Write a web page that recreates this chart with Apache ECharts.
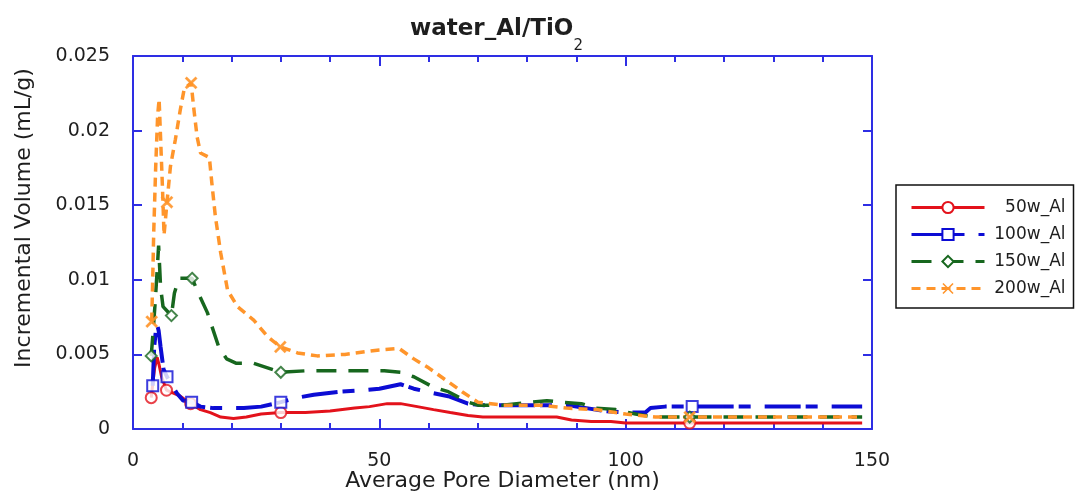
<!DOCTYPE html>
<html>
<head>
<meta charset="utf-8">
<script src="https://cdn.jsdelivr.net/npm/echarts@6/dist/echarts.min.js"></script>
<style>
  html, body { margin: 0; padding: 0; background: #fff; }
  #chart { width: 1075px; height: 493px; }
</style>
</head>
<body>
<div id="chart"></div>
<script>
// Sample names (legend order)
const seriesNames = ['50w_Al', '100w_Al', '150w_Al', '200w_Al'];

// Average pore diameter (nm) and incremental volume (mL/g) for each sample
const dia50 = [3.7, 4.0, 4.4, 4.9, 5.3, 5.8, 6.8, 8.2, 9.6, 11.7, 13.7, 15.7, 17.8, 20.4, 23, 26, 30, 35, 40, 45, 48, 51.6, 54.3, 57.7, 61, 64.4, 68, 71, 78, 86, 89, 93, 97, 100, 113, 148];
const vol50 = [0.0021, 0.0030, 0.0041, 0.0048, 0.0043, 0.0035, 0.0026, 0.0024, 0.0022, 0.0017, 0.0013, 0.0011, 0.0008, 0.0007, 0.0008, 0.0010, 0.0011, 0.0011, 0.0012, 0.0014, 0.0015, 0.0017, 0.0017, 0.0015, 0.0013, 0.0011, 0.0009, 0.0008, 0.0008, 0.0008, 0.0006, 0.0005, 0.0005, 0.0004, 0.0004, 0.0004];

const dia100 = [4.0, 4.3, 4.8, 5.2, 5.6, 6.2, 6.9, 7.6, 8.9, 10.2, 11.9, 13.7, 16.3, 22.5, 26, 30, 33.4, 36.7, 42, 47, 50, 54.3, 57, 61, 64, 68, 71, 80, 88, 92, 96, 100, 104, 105, 108, 113.5, 148];
const vol100 = [0.0029, 0.0055, 0.0071, 0.0066, 0.0055, 0.0040, 0.0035, 0.0031, 0.0024, 0.0019, 0.0018, 0.0015, 0.0014, 0.0014, 0.0015, 0.0018, 0.0021, 0.0023, 0.0025, 0.0026, 0.0027, 0.0030, 0.0027, 0.0024, 0.0022, 0.0017, 0.0016, 0.0016, 0.0016, 0.0014, 0.0012, 0.0011, 0.0011, 0.0014, 0.0015, 0.0015, 0.0015];

const dia150 = [3.7, 4.1, 4.5, 4.9, 5.2, 5.6, 6.1, 7.8, 8.4, 9.3, 12, 13, 15.1, 17.4, 19, 21, 24.5, 30, 35, 45, 51, 54.3, 57, 61, 64, 68, 70, 75, 81, 84, 87, 91, 94, 98, 102, 106, 113, 148];
const vol150 = [0.0049, 0.0066, 0.0085, 0.0106, 0.0123, 0.0095, 0.0082, 0.0076, 0.0091, 0.0101, 0.0101, 0.0093, 0.0078, 0.0055, 0.0047, 0.0044, 0.0044, 0.0038, 0.0039, 0.0039, 0.0039, 0.0038, 0.0035, 0.0028, 0.0025, 0.0018, 0.0016, 0.0016, 0.0018, 0.0019, 0.0018, 0.0017, 0.0014, 0.0013, 0.0010, 0.0008, 0.0008, 0.0008];

const dia200 = [3.8, 4.0, 4.2, 4.6, 5.0, 5.3, 5.6, 6.0, 6.3, 6.9, 7.6, 8.6, 9.6, 10.4, 11.8, 12.3, 13.0, 13.7, 15.5, 16.0, 16.7, 17.8, 19.2, 21.2, 24.5, 27.3, 29.9, 33.4, 37.4, 43, 50, 54, 57, 60, 63.4, 66.8, 70, 75, 83, 88, 94, 100, 106, 113, 148];
const vol200 = [0.0072, 0.0100, 0.0131, 0.0175, 0.0210, 0.0221, 0.0195, 0.0160, 0.0130, 0.0152, 0.0176, 0.0194, 0.0214, 0.0228, 0.0232, 0.0216, 0.0196, 0.0185, 0.0182, 0.0165, 0.0143, 0.0118, 0.0093, 0.0082, 0.0073, 0.0062, 0.0055, 0.0051, 0.0049, 0.0050, 0.0053, 0.0054, 0.0047, 0.0041, 0.0033, 0.0025, 0.0018, 0.0016, 0.0016, 0.0014, 0.0013, 0.0010, 0.0008, 0.0008, 0.0008];

// Diameters near which each curve carries a marker
const markerDiameters = [3.8, 7, 12, 30, 113];

// Axis tick values
const xTicks = [0, 50, 100, 150];
const yTicks = [0, 0.005, 0.01, 0.015, 0.02, 0.025];

const FONT = '"DejaVu Sans", "Liberation Sans", sans-serif';
const FRAME = '#2e2ee4';
const INK = '#1e1e1e';

const styles = [
  { color: '#e3121b', symbol: 'emptyCircle', width: 3, dash: 'solid' },
  { color: '#0c0cd4', symbol: 'emptyRect', width: 4, dash: [36, 5, 12, 14] },
  { color: '#17671e', symbol: 'emptyDiamond', width: 3.5, dash: [20, 12] },
  { color: '#ff952b', symbol: 'path://M0,1L1,0L5,4L9,0L10,1L6,5L10,9L9,10L5,6L1,10L0,9L4,5Z', width: 3.5, dash: [9, 6] }
];

const diameters = [dia50, dia100, dia150, dia200];
const volumes = [vol50, vol100, vol150, vol200];

function pairs(d, v) { return d.map((x, i) => [x, v[i]]); }

// picks, for every marker diameter, the nearest measured point of a curve
function markerPoints(d, v) {
  return markerDiameters.map(m => {
    let best = 0;
    d.forEach((x, i) => { if (Math.abs(x - m) < Math.abs(d[best] - m)) best = i; });
    return [d[best], v[best]];
  });
}

const series = [];
seriesNames.forEach((name, k) => {
  const s = styles[k];
  series.push({
    name, type: 'line', data: pairs(diameters[k], volumes[k]),
    symbol: s.symbol, showSymbol: false, symbolSize: 11,
    itemStyle: { color: s.color },
    lineStyle: { color: s.color, width: s.width, type: s.dash, cap: 'butt' },
    z: 2 + k
  });
});
seriesNames.forEach((name, k) => {
  const s = styles[k];
  series.push({
    name, type: 'scatter', data: markerPoints(diameters[k], volumes[k]),
    symbol: s.symbol, symbolSize: 11,
    itemStyle: { color: s.color, borderColor: s.color, borderWidth: 1.3 },
    z: 10
  });
});

const axisCommon = {
  axisLine: { show: true, onZero: false, lineStyle: { color: FRAME, width: 2 } },
  splitLine: { show: false }
};

const chart = echarts.init(document.getElementById('chart'), null, { renderer: 'canvas' });
chart.setOption({
  animation: false,
  backgroundColor: '#ffffff',
  title: {
    text: '{a|water_Al/TiO}{b|2}',
    left: 405, top: -1,
    textStyle: {
      rich: {
        a: { fontFamily: FONT, fontSize: 23, fontWeight: 'bold', color: INK, lineHeight: 50 },
        b: { fontFamily: FONT, fontSize: 15, fontWeight: 'normal', color: INK, lineHeight: 15, verticalAlign: 'bottom' }
      }
    }
  },
  grid: { left: 133, right: 203, top: 56, bottom: 64, outerBoundsMode: 'none', containLabel: false },
  legend: {
    orient: 'vertical', left: 896, top: 185,
    padding: [14, 8, 11, 14],
    itemWidth: 73, itemHeight: 14, itemGap: 10,
    borderColor: '#111', borderWidth: 1.5,
    lineStyle: { width: 3 },
    data: seriesNames,
    formatter: n => '{t|' + n + '}',
    textStyle: { rich: { t: { width: 76, align: 'right', fontFamily: FONT, fontSize: 17, color: INK } } }
  },
  xAxis: [
    Object.assign({}, axisCommon, {
      type: 'value', position: 'bottom', min: xTicks[0], max: xTicks[xTicks.length - 1], interval: 50,
      axisTick: { inside: true, length: 10, lineStyle: { color: FRAME, width: 2 } },
      minorTick: { show: true, splitNumber: 5, length: 6, lineStyle: { color: FRAME, width: 2 } },
      axisLabel: { margin: 23, fontFamily: FONT, fontSize: 19, color: INK },
      name: 'Average Pore Diameter (nm)', nameLocation: 'middle', nameGap: 41, nameMoveOverlap: false,
      nameTextStyle: { fontFamily: FONT, fontSize: 22, color: INK }
    }),
    Object.assign({}, axisCommon, {
      type: 'value', position: 'top', min: xTicks[0], max: xTicks[xTicks.length - 1], interval: 50,
      axisTick: { inside: true, length: 10, lineStyle: { color: FRAME, width: 2 } },
      minorTick: { show: true, splitNumber: 5, length: 6, lineStyle: { color: FRAME, width: 2 } },
      axisLabel: { show: false }
    })
  ],
  yAxis: [
    Object.assign({}, axisCommon, {
      type: 'value', position: 'left', min: yTicks[0], max: yTicks[yTicks.length - 1], interval: 0.005,
      axisTick: { inside: true, length: 9, lineStyle: { color: FRAME, width: 2 } },
      axisLabel: {
        margin: 23, fontFamily: FONT, fontSize: 19, color: INK,
        formatter: v => String(+v.toFixed(3))
      }
    }),
    Object.assign({}, axisCommon, {
      type: 'value', position: 'right', min: yTicks[0], max: yTicks[yTicks.length - 1], interval: 0.005,
      axisTick: { inside: true, length: 9, lineStyle: { color: FRAME, width: 2 } },
      axisLabel: { show: false }
    })
  ],
  graphic: [{
    type: 'text', x: 24, y: 218, rotation: Math.PI / 2,
    style: {
      text: 'Incremental Volume (mL/g)', fontFamily: FONT, fontSize: 22,
      fill: INK, align: 'center', verticalAlign: 'middle'
    }
  }],
  series
});
</script>
</body>
</html>
